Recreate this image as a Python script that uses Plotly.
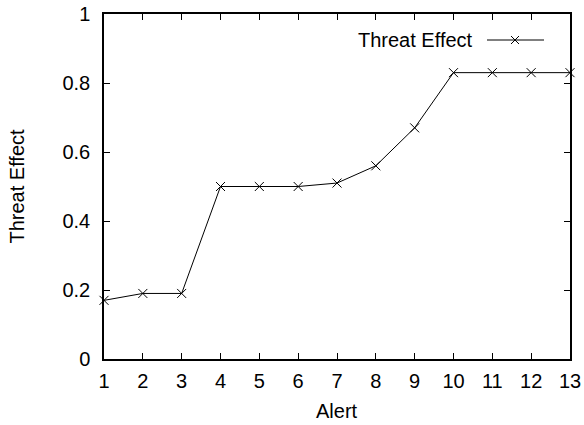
import plotly.graph_objects as go

# Threat effect per alert
alerts = list(range(1, 14))
threat_effect = [0.17, 0.19, 0.19, 0.50, 0.50, 0.50, 0.51, 0.56, 0.67, 0.83, 0.83, 0.83, 0.83]
series_name = "Threat Effect"
x_title = "Alert"
y_title = "Threat Effect"

FONT = "Liberation Sans, Arial, Helvetica, sans-serif"
FS = 20

fig = go.Figure()
fig.add_trace(go.Scatter(
    x=alerts, y=threat_effect, mode="lines+markers", name=series_name,
    line=dict(color="black", width=1),
    marker=dict(symbol="x-thin", size=9, line=dict(color="black", width=1)),
    showlegend=False, cliponaxis=False,
))

axis_common = dict(
    showline=True, linecolor="black", linewidth=1.5, mirror="ticks",
    ticks="inside", ticklen=6, tickwidth=1, tickcolor="black",
    showgrid=False, zeroline=False, automargin=False,
    tickfont=dict(family=FONT, size=FS, color="black"),
)

fig.update_layout(
    width=584, height=425,
    margin=dict(l=104, r=14, t=14, b=66),
    paper_bgcolor="white", plot_bgcolor="white",
    xaxis=dict(range=[1, 13], tickvals=alerts, ticklabelstandoff=3, **axis_common),
    yaxis=dict(range=[0, 1], tickvals=[0, 0.2, 0.4, 0.6, 0.8, 1],
               ticktext=["0", "0.2", "0.4", "0.6", "0.8", "1"], ticklabelstandoff=8,
               title=dict(text=y_title, font=dict(family=FONT, size=FS, color="black"), standoff=32),
               **axis_common),
)

# x-axis title placed under the tick labels
fig.add_annotation(xref="paper", yref="paper", x=0.5, y=-52 / 345,
                   text=x_title, showarrow=False, xanchor="center", yanchor="middle",
                   font=dict(family=FONT, size=FS, color="black"))

# Key: label on the left, line sample with marker on the right
fig.add_annotation(xref="paper", yref="paper", x=(475 - 104) / 466, y=(359 - 40) / 345,
                   text=series_name, showarrow=False, xanchor="right", yanchor="middle",
                   font=dict(family=FONT, size=FS, color="black"))
x0 = (487 - 104) / 466
x1 = (544 - 104) / 466
xm = (515 - 104) / 466
yk = (359 - 40) / 345
fig.add_shape(type="line", xref="paper", yref="paper", x0=x0, x1=x1, y0=yk, y1=yk,
              line=dict(color="black", width=1))
dx = 4 / 466
dy = 4 / 345
fig.add_shape(type="line", xref="paper", yref="paper", x0=xm - dx, x1=xm + dx, y0=yk - dy, y1=yk + dy,
              line=dict(color="black", width=1))
fig.add_shape(type="line", xref="paper", yref="paper", x0=xm - dx, x1=xm + dx, y0=yk + dy, y1=yk - dy,
              line=dict(color="black", width=1))

fig.write_html("out.html")
